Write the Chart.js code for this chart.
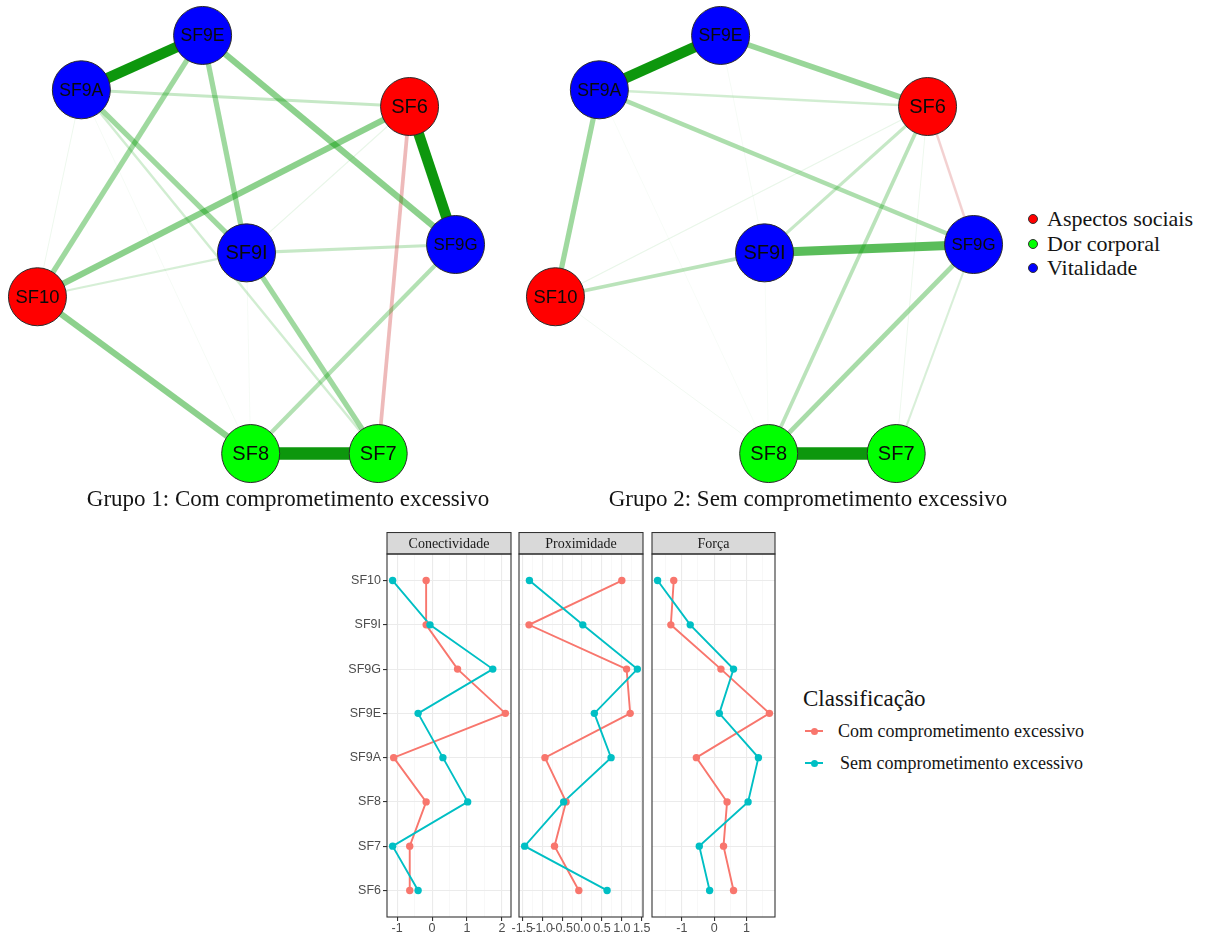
<!DOCTYPE html>
<html><head><meta charset="utf-8">
<script src="https://cdn.jsdelivr.net/npm/chart.js@4.4.1/dist/chart.umd.min.js"></script>
<style>
html,body{margin:0;padding:0;background:#fff;}
body{width:1212px;height:935px;position:relative;overflow:hidden;}
.box{position:absolute;}
canvas{display:block;}
.serif{font-family:"Liberation Serif","Times New Roman",serif;color:#141414;white-space:nowrap;}
.row{position:absolute;display:flex;align-items:center;white-space:nowrap;}
.dot{display:inline-block;width:10px;height:10px;border-radius:50%;border:1px solid #333;box-sizing:border-box;}
</style></head><body>

<div class="box" style="left:4px;top:2px;width:485px;height:485px"><canvas id="net1"></canvas></div>
<div class="box" style="left:522px;top:2px;width:485px;height:485px"><canvas id="net2"></canvas></div>
<div id="t1" class="box serif" style="left:288px;top:499px;font-size:23px;transform:translate(-50%,-50%)"></div>
<div id="t2" class="box serif" style="left:808px;top:499px;font-size:23px;transform:translate(-50%,-50%)"></div>
<div id="netLegend"></div>

<div class="box" style="left:330px;top:532px;width:195px;height:403px"><canvas id="p1"></canvas></div>
<div class="box" style="left:505px;top:532px;width:152px;height:403px"><canvas id="p2"></canvas></div>
<div class="box" style="left:638px;top:532px;width:151px;height:403px"><canvas id="p3"></canvas></div>
<div id="lineLegend"></div>

<script>
// ---------------- DATA ----------------
const nodeNames = ['SF10','SF9I','SF9G','SF9E','SF9A','SF8','SF7','SF6'];
const nodeX     = [-1.00, 0.00, 1.00, -0.21, -0.79, 0.02, 0.63, 0.78];
const nodeY     = [-0.25,-0.04, 0.00,  1.00,  0.74,-1.00,-1.00, 0.66];
const nodeGroup = [0, 2, 2, 2, 2, 1, 1, 0];
const groupNames = ['Aspectos sociais','Dor corporal','Vitalidade'];

const net1Title = 'Grupo 1: Com comprometimento excessivo';
const net1From = ['SF8','SF9A','SF6','SF9E','SF6','SF10','SF9E','SF9E','SF9A','SF9I','SF9G','SF9A','SF9I','SF6','SF9I','SF9A','SF6','SF9A','SF9I','SF9A'];
const net1To   = ['SF7','SF9E','SF9G','SF9G','SF10','SF8','SF10','SF9I','SF9I','SF7','SF8','SF6','SF9G','SF7','SF10','SF7','SF9I','SF10','SF8','SF8'];
const net1W    = [1.00, 0.85, 0.85, 0.50, 0.50, 0.50, 0.42, 0.42, 0.42, 0.42, 0.33, 0.25, 0.25, -0.30, 0.18, 0.20, 0.10, 0.08, 0.06, 0.06];

const net2Title = 'Grupo 2: Sem comprometimento excessivo';
const net2From = ['SF8','SF9A','SF9I','SF9E','SF9A','SF9A','SF9G','SF6','SF10','SF6','SF9A','SF6','SF9G','SF6','SF6','SF10','SF9E','SF9A','SF9I'];
const net2To   = ['SF7','SF9E','SF9G','SF6','SF10','SF9G','SF8','SF8','SF9I','SF9I','SF6','SF9G','SF7','SF10','SF7','SF8','SF9I','SF8','SF8'];
const net2W    = [1.00, 0.85, 0.72, 0.45, 0.42, 0.36, 0.38, 0.30, 0.30, 0.25, 0.20, -0.20, 0.17, 0.10, 0.08, 0.07, 0.06, 0.05, 0.05];

const categories = ['SF6','SF7','SF8','SF9A','SF9E','SF9G','SF9I','SF10'];
const panelTitles = ['Conectividade','Proximidade','Força'];
const seriesNames = ['Com comprometimento excessivo','Sem comprometimento excessivo'];
const comConectividade = [-0.64,-0.64,-0.17,-1.10, 2.10, 0.73,-0.17,-0.17];
const semConectividade = [-0.40,-1.13, 1.02, 0.31,-0.40, 1.74,-0.06,-1.13];
const comProximidade   = [-0.08,-0.69,-0.40,-0.93, 1.21, 1.12,-1.33, 1.00];
const semProximidade   = [ 0.63,-1.44,-0.46, 0.73, 0.31, 1.39, 0.02,-1.32];
const comForca         = [ 0.60, 0.29, 0.40,-0.55, 1.71, 0.21,-1.34,-1.25];
const semForca         = [-0.14,-0.46, 1.05, 1.37, 0.16, 0.60,-0.74,-1.75];
const legendTitle = 'Classificação';

// ---------------- STYLE ----------------
const groupColors = ['#FF0000','#00FF00','#0000FF'];
const seriesColors = ['#F8766D','#00BFC4'];
const SANS = '"Liberation Sans", Arial, sans-serif';
const SERIF = '"Liberation Serif", "Times New Roman", serif';
Chart.defaults.animation = false;

// ---------------- NETWORKS ----------------
const nodeLabelPlugin = {
  id: 'nodeLabels',
  afterDatasetsDraw(chart) {
    const meta = chart.getDatasetMeta(0);
    const ctx = chart.ctx;
    ctx.save();
    ctx.fillStyle = '#0a0a0a';
    ctx.textAlign = 'center';
    ctx.textBaseline = 'middle';
    nodeNames.forEach((n, i) => {
      const el = meta.data[i];
      ctx.font = '20px ' + SANS;
      const w = ctx.measureText(n).width;
      const size = w > 44 ? 20 * 44 / w : 20;
      ctx.font = size.toFixed(2) + 'px ' + SANS;
      ctx.fillText(n, el.x, el.y + 1);
    });
    ctx.restore();
  }
};

function netConfig(from, to, w) {
  const idx = n => nodeNames.indexOf(n);
  const ranks = w.map((v, i) => i).sort((a, b) => Math.abs(w[a]) - Math.abs(w[b]));
  const edges = ranks.map((i, r) => {
    const a = idx(from[i]), b = idx(to[i]), v = w[i], m = Math.abs(v);
    const alpha = m >= 0.8 ? 0.95 : Math.max(0.05, 0.9 * m);
    const col = v > 0 ? (m >= 0.8 ? `rgba(0,145,0,${alpha})` : `rgba(0,153,0,${alpha})`) : `rgba(191,0,0,${alpha})`;
    return {
      data: [{x: nodeX[a], y: nodeY[a]}, {x: nodeX[b], y: nodeY[b]}],
      showLine: true, borderColor: col, borderWidth: 12.5 * m,
      pointRadius: 0, pointHoverRadius: 0, order: 200 - r, clip: false,
      borderCapStyle: 'butt'
    };
  });
  const nodes = {
    data: nodeNames.map((n, i) => ({x: nodeX[i], y: nodeY[i]})),
    pointRadius: 29, pointHoverRadius: 29,
    backgroundColor: nodeGroup.map(g => groupColors[g]),
    borderColor: '#2a2a2a', borderWidth: 1, order: 0, clip: false
  };
  return {
    type: 'scatter',
    data: {datasets: [nodes, ...edges]},
    options: {
      responsive: true, maintainAspectRatio: false, events: [],
      layout: {padding: 0, autoPadding: false},
      scales: {
        x: {type: 'linear', min: -1.16, max: 1.16, display: false},
        y: {type: 'linear', min: -1.16, max: 1.16, display: false}
      },
      plugins: {legend: {display: false}, tooltip: {enabled: false}}
    },
    plugins: [nodeLabelPlugin]
  };
}
new Chart(document.getElementById('net1'), netConfig(net1From, net1To, net1W));
new Chart(document.getElementById('net2'), netConfig(net2From, net2To, net2W));
document.getElementById('t1').textContent = net1Title;
document.getElementById('t2').textContent = net2Title;

// network legend
(function(){
  const host = document.getElementById('netLegend');
  groupNames.forEach((g, i) => {
    const row = document.createElement('div');
    row.className = 'row serif';
    row.style.cssText = `left:1028px;top:${207 + 24.5 * i}px;height:24px;font-size:22px;`;
    const d = document.createElement('span');
    d.className = 'dot';
    d.style.background = groupColors[i];
    d.style.marginRight = '9px';
    row.appendChild(d);
    row.appendChild(document.createTextNode(g));
    host.appendChild(row);
  });
})();

// ---------------- FACET PANELS ----------------
const panelPlugin = {
  id: 'panelDeco',
  afterDraw(chart, args, opts) {
    const {ctx, chartArea: a} = chart;
    ctx.save();
    ctx.fillStyle = '#d9d9d9';
    ctx.strokeStyle = '#333333';
    ctx.lineWidth = 1.1;
    ctx.fillRect(a.left, 0.5, a.right - a.left, a.top - 0.5);
    ctx.strokeRect(a.left, 0.5, a.right - a.left, a.top - 0.5);
    ctx.fillStyle = '#1a1a1a';
    ctx.font = '14px ' + SERIF;
    ctx.textAlign = 'center';
    ctx.textBaseline = 'middle';
    ctx.fillText(opts.title, (a.left + a.right) / 2, a.top / 2 + 1);
    ctx.strokeStyle = '#333333';
    ctx.strokeRect(a.left, a.top, a.right - a.left, a.bottom - a.top);
    ctx.restore();
  }
};

function panelConfig(title, com, sem, majorStep, decimals, showY) {
  const all = com.concat(sem);
  const lo = Math.min(...all), hi = Math.max(...all), ex = (hi - lo) * 0.05;
  const xmin = lo - ex, xmax = hi + ex;
  const minorStep = majorStep / 2;
  const isMajor = v => Math.abs(v / majorStep - Math.round(v / majorStep)) < 1e-6;
  const pts = arr => arr.map((v, i) => ({x: v, y: i}));
  const comPts = pts(com), semPts = pts(sem);
  return {
    type: 'scatter',
    data: {datasets: [
      {label: seriesNames[1], data: semPts, showLine: false, pointRadius: 3.7, pointBorderWidth: 0, backgroundColor: seriesColors[1], order: 1, clip: false},
      {label: seriesNames[0], data: comPts, showLine: false, pointRadius: 3.7, pointBorderWidth: 0, backgroundColor: seriesColors[0], order: 2, clip: false},
      {label: seriesNames[1], data: semPts, showLine: true, pointRadius: 0, borderColor: seriesColors[1], borderWidth: 1.9, order: 3},
      {label: seriesNames[0], data: comPts, showLine: true, pointRadius: 0, borderColor: seriesColors[0], borderWidth: 1.9, order: 4}
    ]},
    options: {
      responsive: true, maintainAspectRatio: false, events: [],
      layout: {padding: {top: 22, left: showY ? 0 : 14, right: 14, bottom: 0}, autoPadding: false},
      scales: {
        x: {
          type: 'linear', min: xmin, max: xmax,
          afterBuildTicks: s => {
            const t = [];
            for (let v = Math.ceil(xmin / minorStep - 1e-9) * minorStep; v <= xmax + 1e-9; v += minorStep) t.push({value: +v.toFixed(6)});
            s.ticks = t;
          },
          afterFit: s => { s.height = 18; },
          ticks: {autoSkip: false, maxRotation: 0, minRotation: 0, padding: 0, color: '#4d4d4d',
                  font: {family: SANS, size: 12.5},
                  callback: v => isMajor(v) ? (Math.abs(v) < 1e-9 ? 0 : v).toFixed(decimals) : ''},
          grid: {
            color: c => isMajor(c.tick.value) ? '#ebebeb' : '#f3f3f3',
            lineWidth: c => isMajor(c.tick.value) ? 1.1 : 0.6,
            tickLength: 4, tickWidth: 1.1,
            tickColor: c => isMajor(c.tick.value) ? '#333333' : 'rgba(0,0,0,0)'
          },
          border: {display: false}
        },
        y: {
          type: 'linear', min: -0.6, max: categories.length - 1 + 0.6,
          afterBuildTicks: s => { s.ticks = categories.map((c, i) => ({value: i})); },
          afterFit: s => { s.width = showY ? 57 : 0; },
          ticks: {display: showY, padding: 2, color: '#4d4d4d', font: {family: SANS, size: 12.5},
                  callback: v => categories[Math.round(v)]},
          grid: {color: '#ebebeb', lineWidth: 1.1, drawTicks: showY, tickLength: 4, tickWidth: 1.1, tickColor: '#333333'},
          border: {display: false}
        }
      },
      plugins: {legend: {display: false}, tooltip: {enabled: false}, panelDeco: {title}}
    },
    plugins: [panelPlugin]
  };
}
new Chart(document.getElementById('p1'), panelConfig(panelTitles[0], comConectividade, semConectividade, 1, 0, true));
new Chart(document.getElementById('p2'), panelConfig(panelTitles[1], comProximidade, semProximidade, 0.5, 1, false));
new Chart(document.getElementById('p3'), panelConfig(panelTitles[2], comForca, semForca, 1, 0, false));

// line legend
(function(){
  const host = document.getElementById('lineLegend');
  const t = document.createElement('div');
  t.className = 'row serif';
  t.style.cssText = 'left:803px;top:685px;height:28px;font-size:23px;';
  t.textContent = legendTitle;
  host.appendChild(t);
  seriesNames.forEach((s, i) => {
    const row = document.createElement('div');
    row.className = 'row serif';
    row.style.cssText = `left:805px;top:${719 + 32 * i}px;height:24px;font-size:18px;`;
    const key = document.createElement('span');
    key.style.cssText = `position:relative;display:inline-block;width:18px;height:24px;margin-right:${15 + i * 2}px;`;
    key.innerHTML = `<span style="position:absolute;left:0;top:11px;width:18px;height:2px;background:${seriesColors[i]}"></span>` +
                    `<span style="position:absolute;left:5.5px;top:8.5px;width:7px;height:7px;border-radius:50%;background:${seriesColors[i]}"></span>`;
    row.appendChild(key);
    row.appendChild(document.createTextNode(s));
    host.appendChild(row);
  });
})();
</script>
</body></html>
